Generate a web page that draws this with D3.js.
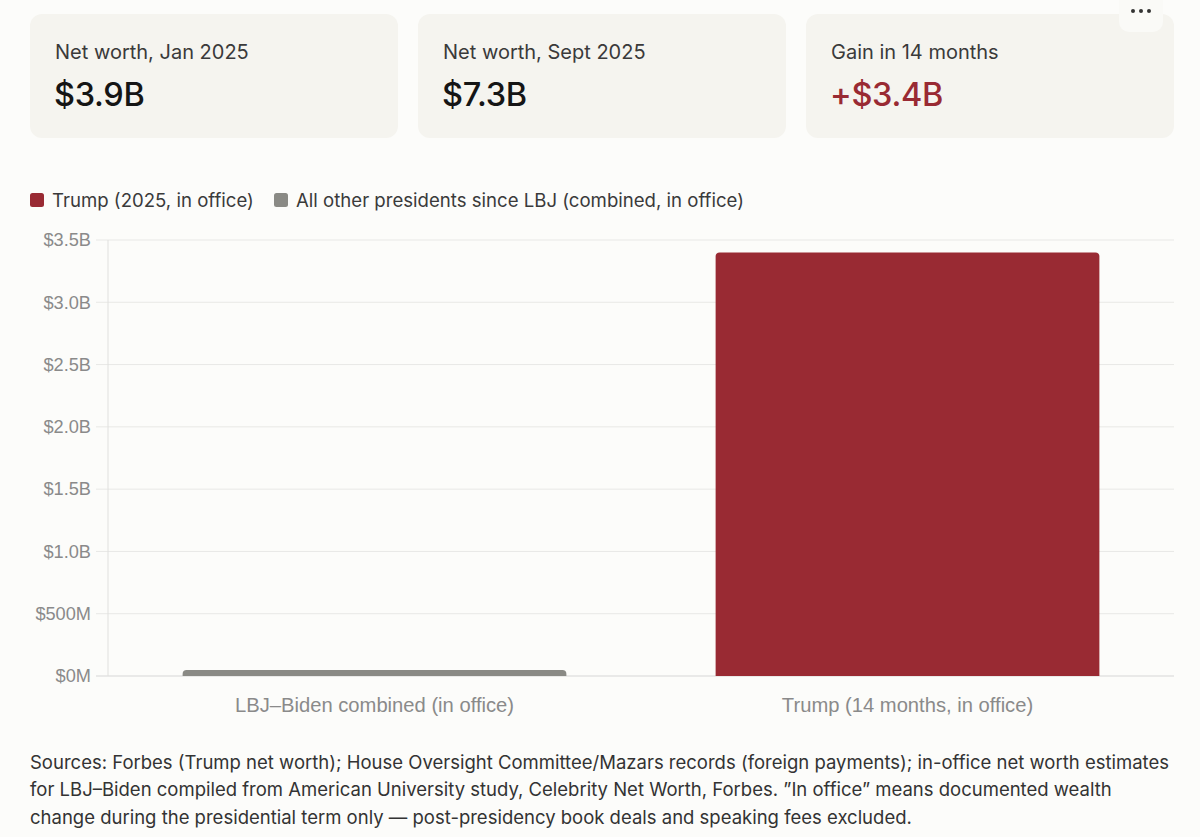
<!DOCTYPE html>
<html>
<head>
<meta charset="utf-8">
<script src="https://cdn.jsdelivr.net/npm/d3@7"></script>
<style>
  html, body { margin: 0; padding: 0; background: #fcfcfa; }
  svg { display: block; }
</style>
</head>
<body>
<svg id="chart" width="1200" height="837"></svg>
<script>
// ---- data ----
const cardLabels = ["Net worth, Jan 2025", "Net worth, Sept 2025", "Gain in 14 months"];
const cardValues = ["$3.9B", "$7.3B", "+$3.4B"];
const legendLabels = ["Trump (2025, in office)", "All other presidents since LBJ (combined, in office)"];
const categories = ["LBJ\u2013Biden combined (in office)", "Trump (14 months, in office)"];
const values = [0.048e9, 3.4e9];
const yTicks = [0, 0.5e9, 1.0e9, 1.5e9, 2.0e9, 2.5e9, 3.0e9, 3.5e9];
const yTickLabels = ["$0M", "$500M", "$1.0B", "$1.5B", "$2.0B", "$2.5B", "$3.0B", "$3.5B"];
const footerLines = [
  "Sources: Forbes (Trump net worth); House Oversight Committee/Mazars records (foreign payments); in-office net worth estimates",
  "for LBJ\u2013Biden compiled from American University study, Celebrity Net Worth, Forbes. \u201DIn office\u201D means documented wealth",
  "change during the presidential term only \u2014 post-presidency book deals and speaking fees excluded."
];

// ---- style ----
const RED = "#992a33", GREY = "#8a8a85";
const uiFont = "Inter, 'Noto Sans', sans-serif";
const axisFont = "'Liberation Sans', Arial, sans-serif";
const svg = d3.select("#chart");

// cards
const cardX = d3.scaleBand().domain(d3.range(3)).range([30, 1174]).paddingInner(20 / 388);
const cards = svg.selectAll("g.card").data(cardLabels).join("g")
  .attr("class", "card")
  .attr("transform", (d, i) => `translate(${cardX(i)},14)`);
cards.append("rect").attr("width", cardX.bandwidth()).attr("height", 124)
  .attr("rx", 12).attr("fill", "#f5f4ef");
cards.append("text").attr("x", 25).attr("y", 45)
  .attr("font-family", uiFont).attr("font-size", 20).attr("fill", "#3a3a3a")
  .text(d => d);
cards.append("text").attr("x", 24).attr("y", 92)
  .attr("font-family", uiFont).attr("font-size", 32.5).attr("font-weight", 500)
  .attr("letter-spacing", "-0.3")
  .attr("fill", (d, i) => i === 2 ? RED : "#151515")
  .text((d, i) => cardValues[i]);

// more button
svg.append("rect").attr("x", 1119).attr("y", -10).attr("width", 44).attr("height", 42)
  .attr("rx", 10).attr("fill", "#fafaf7");
svg.selectAll("circle.dot").data([0, 1, 2]).join("circle")
  .attr("class", "dot").attr("cx", d => 1133 + d * 8).attr("cy", 11).attr("r", 2)
  .attr("fill", "#333");

// legend
const legColors = [RED, GREY];
const legX = [30, 274];
const leg = svg.selectAll("g.leg").data(legendLabels).join("g")
  .attr("class", "leg").attr("transform", (d, i) => `translate(${legX[i]},193)`);
leg.append("rect").attr("width", 14).attr("height", 14).attr("rx", 2.5)
  .attr("fill", (d, i) => legColors[i]);
leg.append("text").attr("x", 22).attr("y", 14)
  .attr("font-family", uiFont).attr("font-size", 18.6).attr("fill", "#3a3a3a")
  .text(d => d);

// chart
const plot = { left: 108, right: 1174, top: 240, bottom: 676 };
const y = d3.scaleLinear().domain([0, 3.5e9]).range([plot.bottom, plot.top]);
const x = d3.scaleBand().domain(categories).range([plot.left, plot.right]).padding(0);
const barW = x.bandwidth() * 0.72;

// gridlines
svg.append("g").selectAll("line").data(yTicks).join("line")
  .attr("x1", plot.left - 12).attr("x2", plot.right)
  .attr("y1", d => y(d)).attr("y2", d => y(d))
  .attr("stroke", d => d === 0 ? "#d6d6d6" : "#e8e8e6").attr("stroke-width", 1);
// y axis line
svg.append("line").attr("x1", plot.left).attr("x2", plot.left)
  .attr("y1", plot.top).attr("y2", plot.bottom).attr("stroke", "#e0e0de");

// y axis labels
const yAxis = d3.axisLeft(y).tickValues(yTicks).tickSize(0).tickPadding(17)
  .tickFormat((d, i) => yTickLabels[i]);
const ya = svg.append("g").attr("transform", `translate(${plot.left},0)`).call(yAxis);
ya.select(".domain").remove();
ya.selectAll("text").attr("font-family", axisFont).attr("font-size", 18.2).attr("fill", "#8a8a8a");

// x axis labels
const xAxis = d3.axisBottom(x).tickSize(0).tickPadding(22);
const xa = svg.append("g").attr("transform", `translate(0,${plot.bottom})`).call(xAxis);
xa.select(".domain").remove();
xa.selectAll("text").attr("font-family", axisFont).attr("font-size", 20.2).attr("fill", "#8a8a8a");

// bars with rounded top corners
const barColors = [GREY, RED];
function barPath(x0, w, yTop, yBot, r) {
  r = Math.min(r, (yBot - yTop), w / 2);
  return `M${x0},${yBot}V${yTop + r}Q${x0},${yTop} ${x0 + r},${yTop}H${x0 + w - r}Q${x0 + w},${yTop} ${x0 + w},${yTop + r}V${yBot}Z`;
}
svg.append("g").selectAll("path").data(values).join("path")
  .attr("d", (d, i) => barPath(x(categories[i]) + (x.bandwidth() - barW) / 2, barW, y(d), y(0), 4))
  .attr("fill", (d, i) => barColors[i]);

// footer
svg.append("g").selectAll("text").data(footerLines).join("text")
  .attr("x", 30).attr("y", (d, i) => 768.5 + i * 27.6)
  .attr("font-family", uiFont).attr("font-size", 18.5).attr("fill", "#333")
  .text(d => d);
</script>
</body>
</html>
